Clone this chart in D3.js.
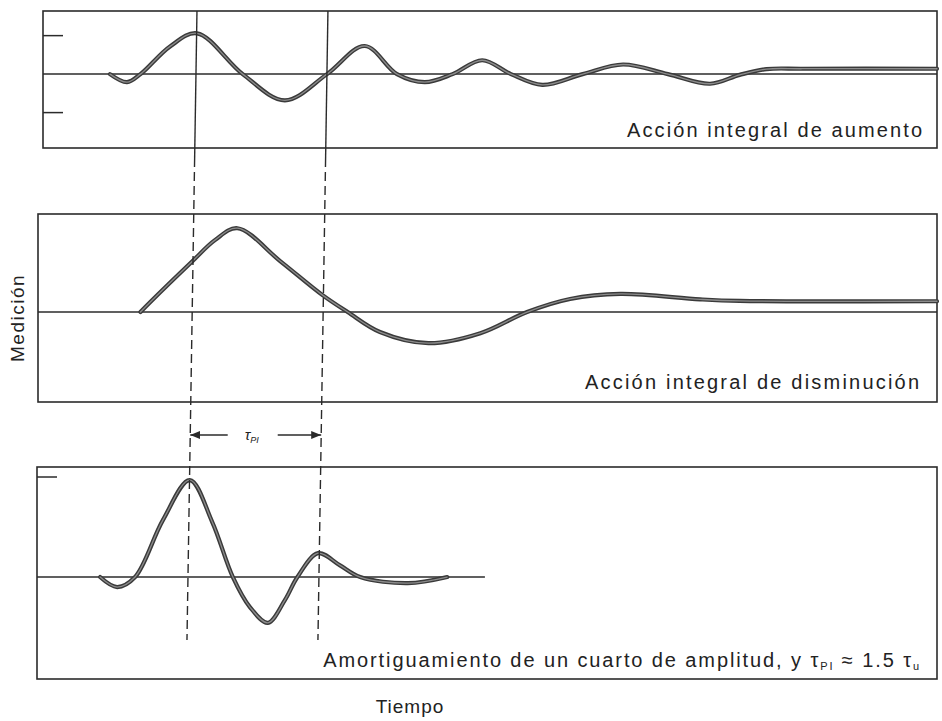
<!DOCTYPE html>
<html>
<head>
<meta charset="utf-8">
<script src="https://cdn.jsdelivr.net/npm/d3@7"></script>
<style>
  html, body { margin: 0; padding: 0; background: #fff; }
  svg { display: block; }
  text { font-family: "Liberation Sans", Arial, sans-serif; fill: #222; }
</style>
</head>
<body>
<div id="chart"></div>
<script>
// ---------------- DATA ----------------
// time axis (arbitrary units 0..100)
const timeDomain = [0, 100];

// Panel 1: Acción integral de aumento
const topTime  = [7.8, 9.7, 11.2, 14.5, 17.5, 22.6, 27.3, 32.0, 36.2, 39.8, 42.9, 46.0, 49.3, 52.5, 56.0, 60.5, 65.0, 70.0, 74.7, 78.0, 81.0, 85.0, 100];
const topValue = [0, -0.21, 0, 0.72, 1.06, 0, -0.68, 0, 0.73, 0, -0.21, 0, 0.36, 0, -0.28, 0, 0.25, 0, -0.25, -0.02, 0.13, 0.14, 0.14];

// Panel 2: Acción integral de disminución
const midTime  = [11.2, 12.3, 16.9, 19.5, 22.0, 26.8, 31.5, 34.3, 37.9, 43.3, 49.1, 54.3, 59.1, 64.7, 73.6, 78.0, 100];
const midValue = [0, 0.26, 1.30, 1.87, 2.18, 1.32, 0.44, 0, -0.52, -0.81, -0.55, 0, 0.34, 0.47, 0.33, 0.29, 0.28];

// Panel 3: Amortiguamiento de un cuarto de amplitud
const botTime  = [6.7, 8.6, 10.6, 13.7, 16.7, 19.2, 21.5, 23.4, 25.4, 27.3, 28.7, 31.0, 33.4, 35.7, 41.0, 45.4];
const botValue = [0, -0.26, 0, 1.48, 2.52, 1.43, 0, -0.78, -1.19, -0.60, 0, 0.62, 0.31, 0, -0.16, 0];
const botBaselineEnd = 49.6;

// value ranges of each panel box
const topDomain = [-1.92, 1.64];
const midDomain = [-2.34, 2.55];
const botDomain = [-2.65, 2.86];

// tick marks on left edge
const topTicks = [1, -1];
const botTicks = [2.6];

// reference times (peak and period of the first response)
const markTimes = [17.5, 32.1];

// labels
const panelLabels = ["Acción integral de aumento", "Acción integral de disminución"];
const yLabel = "Medición";
const xLabel = "Tiempo";

// ---------------- LAYOUT ----------------
const W = 942, H = 721;
const svg = d3.select("#chart").append("svg").attr("width", W).attr("height", H);

const x = d3.scaleLinear().domain(timeDomain).range([40, 937]);

const panels = [
  { left: 43, right: 937, top: 11,  bottom: 148, domain: topDomain, t: topTime, v: topValue, ticks: topTicks, baseEnd: 100 },
  { left: 38, right: 937, top: 214, bottom: 402, domain: midDomain, t: midTime, v: midValue, ticks: [], baseEnd: 100 },
  { left: 37, right: 937, top: 467, bottom: 679, domain: botDomain, t: botTime, v: botValue, ticks: botTicks, baseEnd: botBaselineEnd }
];

const ink = "#2b2b2b";

panels.forEach(p => {
  p.y = d3.scaleLinear().domain(p.domain).range([p.bottom, p.top]);
  const g = svg.append("g");
  // box
  g.append("rect")
    .attr("x", p.left).attr("y", p.top)
    .attr("width", p.right - p.left).attr("height", p.bottom - p.top)
    .attr("fill", "none").attr("stroke", ink).attr("stroke-width", 1.6);
  // baseline
  g.append("line")
    .attr("x1", p.left).attr("x2", Math.min(p.right, x(p.baseEnd)))
    .attr("y1", p.y(0)).attr("y2", p.y(0))
    .attr("stroke", ink).attr("stroke-width", 1.5);
  // ticks
  g.selectAll(".tk").data(p.ticks).enter().append("line")
    .attr("x1", p.left).attr("x2", p.left + 20)
    .attr("y1", d => p.y(d)).attr("y2", d => p.y(d))
    .attr("stroke", ink).attr("stroke-width", 1.5);
  // signal
  const pts = p.t.map((t, i) => [t, p.v[i]]);
  const line = d3.line().x(d => x(d[0])).y(d => p.y(d[1])).curve(d3.curveCatmullRom.alpha(0.5));
  g.append("path").attr("d", line(pts))
    .attr("fill", "none").attr("stroke", "#3a3a3a").attr("stroke-width", 4.2)
    .attr("stroke-linejoin", "round").attr("stroke-linecap", "round");
  g.append("path").attr("d", line(pts))
    .attr("fill", "none").attr("stroke", "#8c8c8c").attr("stroke-width", 1.3)
    .attr("stroke-linejoin", "round").attr("stroke-linecap", "round");
});

// reference vertical lines (solid in the top panel, dashed below; scan is slightly skewed)
const skew = -10; // px shift over full height
const yTop = panels[0].top, ySolidEnd = 158, yDashEnd = 640;
const xAt = (t, yy) => x(t) + skew * (yy - yTop) / (yDashEnd - yTop);
markTimes.forEach(t => {
  svg.append("line")
    .attr("x1", xAt(t, yTop)).attr("y1", yTop)
    .attr("x2", xAt(t, ySolidEnd)).attr("y2", ySolidEnd)
    .attr("stroke", ink).attr("stroke-width", 1.4);
  svg.append("line")
    .attr("x1", xAt(t, ySolidEnd)).attr("y1", ySolidEnd)
    .attr("x2", xAt(t, yDashEnd)).attr("y2", yDashEnd)
    .attr("stroke", ink).attr("stroke-width", 1.4)
    .attr("stroke-dasharray", "9,5");
});

// tau_PI dimension arrow
const defs = svg.append("defs");
defs.append("marker").attr("id", "ah").attr("viewBox", "0 0 10 10")
  .attr("refX", 10).attr("refY", 5).attr("markerWidth", 10).attr("markerHeight", 10)
  .attr("markerUnits", "userSpaceOnUse").attr("orient", "auto")
  .append("path").attr("d", "M0,1 L10,5 L0,9 Z").attr("fill", ink);
const ay = 435;
const axL = xAt(markTimes[0], ay), axR = xAt(markTimes[1], ay);
const mid = (axL + axR) / 2;
svg.append("line").attr("x1", mid - 28).attr("x2", axL).attr("y1", ay).attr("y2", ay)
  .attr("stroke", ink).attr("stroke-width", 1.3).attr("marker-end", "url(#ah)");
svg.append("line").attr("x1", mid + 22).attr("x2", axR).attr("y1", ay).attr("y2", ay)
  .attr("stroke", ink).attr("stroke-width", 1.3).attr("marker-end", "url(#ah)");
const tl = svg.append("text").attr("x", mid - 4).attr("y", ay + 5).attr("text-anchor", "middle")
  .attr("font-size", 15).attr("font-style", "italic");
tl.append("tspan").text("τ");
tl.append("tspan").attr("font-size", 9).attr("dy", 3).text("PI");

// panel labels
svg.append("text").attr("x", 922).attr("y", 137).attr("text-anchor", "end")
  .attr("font-size", 20).attr("textLength", 295).attr("lengthAdjust", "spacing")
  .text(panelLabels[0]);
svg.append("text").attr("x", 919).attr("y", 389).attr("text-anchor", "end")
  .attr("font-size", 20).attr("textLength", 334).attr("lengthAdjust", "spacing")
  .text(panelLabels[1]);

const bl = svg.append("text").attr("x", 921).attr("y", 667).attr("text-anchor", "end")
  .attr("font-size", 20).attr("letter-spacing", 1.9);
bl.append("tspan").text("Amortiguamiento de un cuarto de amplitud, y τ");
bl.append("tspan").attr("font-size", 11).attr("dy", 3).text("PI");
bl.append("tspan").attr("dy", -3).text(" ≈ 1.5 τ");
bl.append("tspan").attr("font-size", 11).attr("dy", 3).text("u");

// axis labels
svg.append("text").attr("x", 410).attr("y", 713).attr("text-anchor", "middle")
  .attr("font-size", 19).attr("letter-spacing", 1).text(xLabel);
svg.append("text").attr("transform", "translate(24,318) rotate(-90)").attr("text-anchor", "middle")
  .attr("font-size", 19).attr("letter-spacing", 1.5).text(yLabel);
</script>
</body>
</html>
